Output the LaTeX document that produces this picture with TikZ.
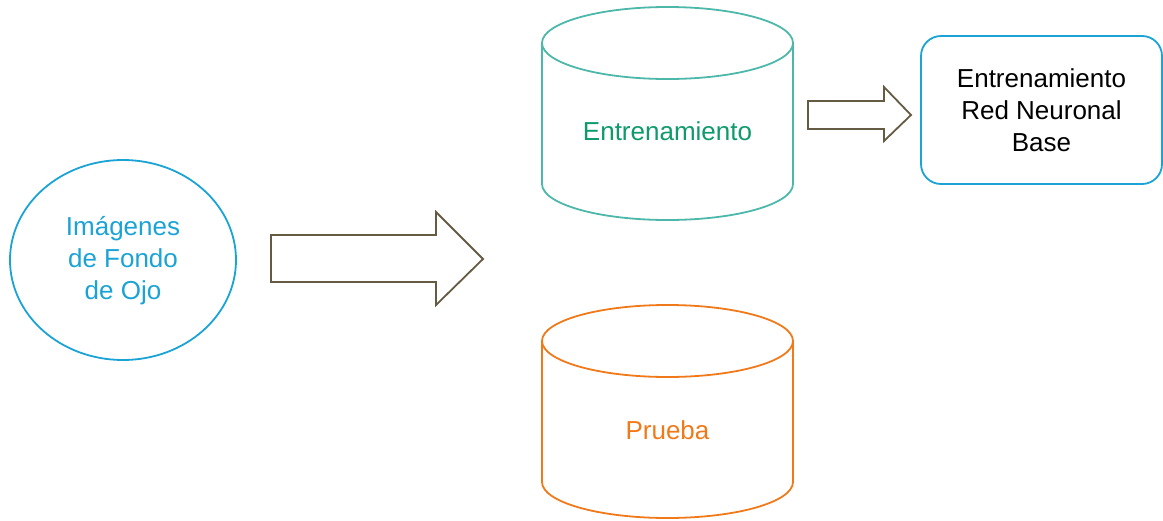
\documentclass[tikz,border=0pt]{standalone}
\usepackage{fontspec}
\setmainfont{Liberation Sans}
\definecolor{skyline}{HTML}{1AA3D4}
\definecolor{tealline}{HTML}{4DB8AA}
\definecolor{greentext}{HTML}{0E9A6A}
\definecolor{orangeline}{HTML}{F07A1A}
\definecolor{arrowline}{HTML}{655A44}
\tikzset{
  label26/.style={font=\fontsize{26}{32}\selectfont, align=center, inner sep=0pt},
  shapeline/.style={line width=1.8pt},
  blockarrow/.style={draw=arrowline, line width=1.8pt, line join=miter, fill=white},
}
\begin{document}
\begin{tikzpicture}[x=1pt,y=-1pt]
\useasboundingbox (0,0) rectangle (1163,520);

% source images: ellipse
\draw[shapeline, draw=skyline] (123,260) ellipse [x radius=113, y radius=100];
\node[label26, text=skyline] (src) at (123,261) {Imágenes\\de Fondo\\de Ojo};

% large block arrow
\draw[blockarrow] (271,235) -- (436,235) -- (436,212) -- (483,259) -- (436,305)
  -- (436,282) -- (271,282) -- cycle;

% training cylinder
\draw[shapeline, draw=tealline] (542,43) -- (542,184)
  arc[start angle=180, end angle=0, x radius=125.5, y radius=36] -- (793,43);
\draw[shapeline, draw=tealline] (667.5,43) ellipse [x radius=125.5, y radius=36];
\node[label26, text=greentext] (train) at (667.5,131) {Entrenamiento};

% test cylinder
\draw[shapeline, draw=orangeline] (542,341) -- (542,482)
  arc[start angle=180, end angle=0, x radius=125.5, y radius=36] -- (793,341);
\draw[shapeline, draw=orangeline] (667.5,341) ellipse [x radius=125.5, y radius=36];
\node[label26, text=orangeline] (test) at (667.5,430) {Prueba};

% small block arrow
\draw[blockarrow] (808,101) -- (884,101) -- (884,87) -- (911,115) -- (884,141)
  -- (884,129) -- (808,129) -- cycle;

% base network training box
\node[draw=skyline, shapeline, rounded corners=20pt, minimum width=241pt,
  minimum height=148pt, inner sep=0pt] (box) at (1041.5,110) {};
\node[label26, text=black] (boxtext) at (box.center) {Entrenamiento\\Red Neuronal\\Base};
\end{tikzpicture}
\end{document}
